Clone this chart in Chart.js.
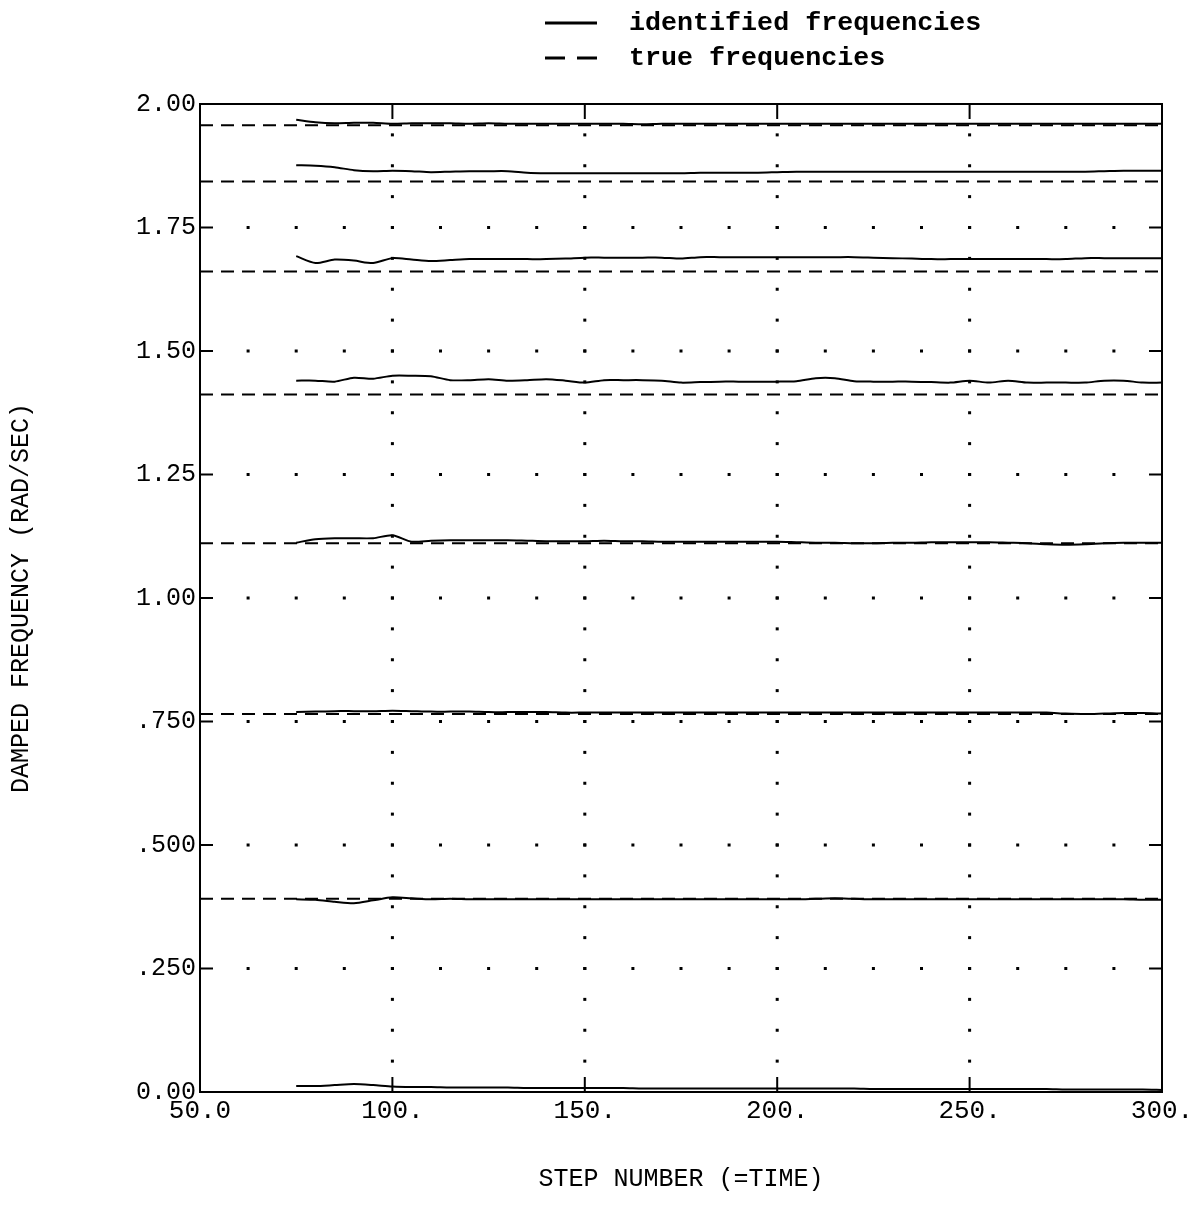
<!DOCTYPE html>
<html>
<head>
<meta charset="utf-8">
<script src="https://cdn.jsdelivr.net/npm/chart.js@4.4.1/dist/chart.umd.min.js"></script>
<style>
  html, body { margin: 0; padding: 0; background: #fff; }
  canvas { display: block; }
</style>
</head>
<body>
<canvas id="freqChart" width="1190" height="1222"></canvas>
<script>
'use strict';

const steps = [75, 80, 85, 90, 95, 100, 105, 110, 115, 120, 125, 130, 135, 140, 145, 150,
  155, 160, 165, 170, 175, 180, 185, 190, 195, 200, 205, 210, 215, 220, 225, 230,
  235, 240, 245, 250, 255, 260, 265, 270, 275, 280, 285, 290, 295, 300];

// identified damped frequencies (rad/sec), one array per mode
const idFreq1 = [1.968, 1.963, 1.961, 1.962, 1.962, 1.960, 1.961, 1.961, 1.961, 1.960, 1.961, 1.960,
  1.960, 1.960, 1.960, 1.960, 1.960, 1.960, 1.959, 1.960, 1.960, 1.960, 1.960, 1.960, 1.960, 1.960,
  1.960, 1.960, 1.960, 1.960, 1.960, 1.960, 1.960, 1.960, 1.960, 1.960, 1.960, 1.960, 1.960, 1.960,
  1.960, 1.960, 1.960, 1.960, 1.960, 1.960];
const idFreq2 = [1.876, 1.875, 1.872, 1.866, 1.864, 1.865, 1.864, 1.862, 1.863, 1.864, 1.864, 1.864,
  1.861, 1.860, 1.860, 1.860, 1.860, 1.860, 1.860, 1.860, 1.860, 1.861, 1.861, 1.861, 1.861, 1.862,
  1.863, 1.863, 1.863, 1.863, 1.863, 1.863, 1.863, 1.863, 1.863, 1.863, 1.863, 1.863, 1.863, 1.863,
  1.863, 1.863, 1.864, 1.865, 1.865, 1.865];
const idFreq3 = [1.692, 1.678, 1.685, 1.683, 1.678, 1.688, 1.685, 1.682, 1.684, 1.686, 1.686, 1.686,
  1.686, 1.686, 1.687, 1.689, 1.689, 1.689, 1.689, 1.689, 1.687, 1.690, 1.690, 1.690, 1.690, 1.690,
  1.690, 1.690, 1.690, 1.690, 1.689, 1.688, 1.687, 1.686, 1.686, 1.686, 1.686, 1.686, 1.686, 1.686,
  1.686, 1.688, 1.688, 1.688, 1.688, 1.688];
const idFreq4 = [1.440, 1.440, 1.438, 1.446, 1.444, 1.450, 1.450, 1.449, 1.441, 1.441, 1.443, 1.440,
  1.441, 1.443, 1.440, 1.436, 1.441, 1.441, 1.441, 1.440, 1.436, 1.437, 1.438, 1.438, 1.438, 1.438,
  1.439, 1.445, 1.445, 1.439, 1.438, 1.438, 1.438, 1.437, 1.436, 1.440, 1.436, 1.440, 1.436, 1.436,
  1.436, 1.436, 1.440, 1.440, 1.436, 1.436];
const idFreq5 = [1.112, 1.119, 1.121, 1.121, 1.121, 1.127, 1.114, 1.116, 1.117, 1.117, 1.117, 1.117,
  1.116, 1.115, 1.115, 1.115, 1.116, 1.115, 1.115, 1.114, 1.114, 1.114, 1.114, 1.114, 1.114, 1.114,
  1.113, 1.112, 1.112, 1.111, 1.111, 1.112, 1.112, 1.113, 1.113, 1.113, 1.113, 1.112, 1.111, 1.109,
  1.108, 1.109, 1.111, 1.112, 1.112, 1.112];
const idFreq6 = [0.769, 0.770, 0.771, 0.771, 0.771, 0.772, 0.771, 0.770, 0.770, 0.770, 0.769, 0.769,
  0.769, 0.769, 0.768, 0.768, 0.768, 0.768, 0.768, 0.768, 0.768, 0.768, 0.768, 0.768, 0.768, 0.768,
  0.768, 0.768, 0.768, 0.768, 0.768, 0.768, 0.768, 0.768, 0.768, 0.768, 0.768, 0.768, 0.768, 0.768,
  0.766, 0.765, 0.766, 0.767, 0.767, 0.766];
const idFreq7 = [0.390, 0.389, 0.385, 0.382, 0.388, 0.394, 0.392, 0.390, 0.391, 0.390, 0.390, 0.390,
  0.390, 0.390, 0.390, 0.390, 0.390, 0.390, 0.390, 0.390, 0.390, 0.390, 0.390, 0.390, 0.390, 0.390,
  0.390, 0.391, 0.392, 0.391, 0.390, 0.390, 0.390, 0.390, 0.390, 0.390, 0.390, 0.390, 0.390, 0.390,
  0.390, 0.390, 0.390, 0.390, 0.389, 0.389];
const idFreq8 = [0.012, 0.012, 0.014, 0.016, 0.014, 0.011, 0.010, 0.010, 0.009, 0.009, 0.009, 0.009,
  0.008, 0.008, 0.008, 0.008, 0.008, 0.008, 0.007, 0.007, 0.007, 0.007, 0.007, 0.007, 0.007, 0.007,
  0.007, 0.007, 0.007, 0.007, 0.006, 0.006, 0.006, 0.006, 0.006, 0.006, 0.006, 0.006, 0.006, 0.006,
  0.005, 0.005, 0.005, 0.005, 0.005, 0.004];

// true damped frequencies, drawn across the whole step range
const trueFreqs = [1.957, 1.843, 1.661, 1.412, 1.111, 0.765, 0.391];
const trueSpan = [50, 300];

const xTickLabels = ['50.0', '100.', '150.', '200.', '250.', '300.'];
const yTickLabels = ['0.00', '.250', '.500', '.750', '1.00', '1.25', '1.50', '1.75', '2.00'];
const legendLabels = ['identified frequencies', 'true frequencies'];

const plotFont = '"Liberation Mono", "DejaVu Sans Mono", monospace';
const dotStepX = 12.5;   // spacing of the dots along the dotted rows
const dotStepY = 0.0625; // spacing of the dots along the dotted columns

const identified = [idFreq1, idFreq2, idFreq3, idFreq4, idFreq5, idFreq6, idFreq7, idFreq8];

const datasets = [];
identified.forEach(function (series) {
  datasets.push({
    label: legendLabels[0],
    data: steps.map((s, i) => ({ x: s, y: series[i] })),
    borderColor: '#000',
    borderWidth: 2,
    pointRadius: 0,
    tension: 0.25,
    fill: false
  });
});
trueFreqs.forEach(function (f) {
  datasets.push({
    label: legendLabels[1],
    data: trueSpan.map(s => ({ x: s, y: f })),
    borderColor: '#000',
    borderWidth: 2,
    borderDash: [13, 8],
    pointRadius: 0,
    fill: false
  });
});

// frame, inward tick marks and the dotted plotter grid
const plotterFrame = {
  id: 'plotterFrame',
  beforeDatasetsDraw(chart) {
    const { ctx, chartArea: a } = chart;
    const xs = chart.scales.x;
    const ys = chart.scales.y;
    ctx.save();
    ctx.fillStyle = '#000';
    ys.ticks.forEach(function (t) {
      if (t.value <= ys.min || t.value >= ys.max) return;
      const py = ys.getPixelForValue(t.value);
      for (let v = xs.min + dotStepX; v < xs.max - 0.01; v += dotStepX) {
        ctx.fillRect(xs.getPixelForValue(v) - 1.5, py - 1.5, 3, 3);
      }
    });
    xs.ticks.forEach(function (t) {
      if (t.value <= xs.min || t.value >= xs.max) return;
      const px = xs.getPixelForValue(t.value);
      for (let v = ys.min + dotStepY; v < ys.max - 0.001; v += dotStepY) {
        ctx.fillRect(px - 1.5, ys.getPixelForValue(v) - 1.5, 3, 3);
      }
    });

    ctx.strokeStyle = '#000';
    ctx.lineWidth = 2;
    ctx.strokeRect(a.left, a.top, a.right - a.left, a.bottom - a.top);
    ctx.beginPath();
    ys.ticks.forEach(function (t) {
      if (t.value <= ys.min || t.value >= ys.max) return;
      const py = ys.getPixelForValue(t.value);
      ctx.moveTo(a.left, py); ctx.lineTo(a.left + 13, py);
      ctx.moveTo(a.right, py); ctx.lineTo(a.right - 13, py);
    });
    xs.ticks.forEach(function (t) {
      if (t.value <= xs.min || t.value >= xs.max) return;
      const px = xs.getPixelForValue(t.value);
      ctx.moveTo(px, a.bottom); ctx.lineTo(px, a.bottom - 15);
      ctx.moveTo(px, a.top); ctx.lineTo(px, a.top + 15);
    });
    ctx.stroke();
    ctx.restore();
  }
};

// legend in the top margin: solid sample then dashed sample
const plotterLegend = {
  id: 'plotterLegend',
  afterDraw(chart) {
    const ctx = chart.ctx;
    const samples = [chart.data.datasets[0], chart.data.datasets[identified.length]];
    const rowY = [23, 58];
    ctx.save();
    ctx.font = 'bold 26.7px ' + plotFont;
    ctx.textBaseline = 'middle';
    ctx.textAlign = 'left';
    samples.forEach(function (ds, i) {
      ctx.strokeStyle = ds.borderColor;
      ctx.lineWidth = 3;
      ctx.setLineDash(ds.borderDash ? [20, 12] : []);
      ctx.beginPath();
      ctx.moveTo(545, rowY[i]);
      ctx.lineTo(597, rowY[i]);
      ctx.stroke();
      ctx.setLineDash([]);
      ctx.fillStyle = '#000';
      ctx.fillText(ds.label, 629, rowY[i]);
    });
    ctx.restore();
  }
};

const freqChart = new Chart(document.getElementById('freqChart'), {
  type: 'line',
  data: { datasets: datasets },
  plugins: [plotterFrame, plotterLegend],
  options: {
    responsive: false,
    animation: false,
    layout: { padding: { top: 104, right: 28, bottom: 0, left: 0 } },
    plugins: {
      legend: { display: false },
      tooltip: { enabled: false }
    },
    scales: {
      x: {
        type: 'linear',
        min: 50,
        max: 300,
        grid: { display: false, drawTicks: false },
        border: { display: false },
        ticks: {
          stepSize: 50,
          padding: 4,
          maxRotation: 0,
          color: '#000',
          font: { family: plotFont, size: 26 },
          callback: (value, index) => xTickLabels[index]
        },
        title: {
          display: true,
          text: 'STEP NUMBER (=TIME)',
          color: '#000',
          font: { family: plotFont, size: 25 },
          padding: { top: 0, bottom: 28 }
        },
        afterFit(scale) {
          scale.height = 130;
          scale.paddingLeft = 0;
          scale.paddingRight = 0;
        }
      },
      y: {
        min: 0,
        max: 2,
        grid: { display: false, drawTicks: false },
        border: { display: false },
        ticks: {
          stepSize: 0.25,
          padding: 4,
          color: '#000',
          font: { family: plotFont, size: 25 },
          callback: (value, index) => yTickLabels[index]
        },
        title: {
          display: true,
          text: 'DAMPED FREQUENCY (RAD/SEC)',
          color: '#000',
          font: { family: plotFont, size: 25 },
          padding: { top: 6, bottom: 0 }
        },
        afterFit(scale) {
          scale.width = 200;
        }
      }
    }
  }
});
</script>
</body>
</html>
